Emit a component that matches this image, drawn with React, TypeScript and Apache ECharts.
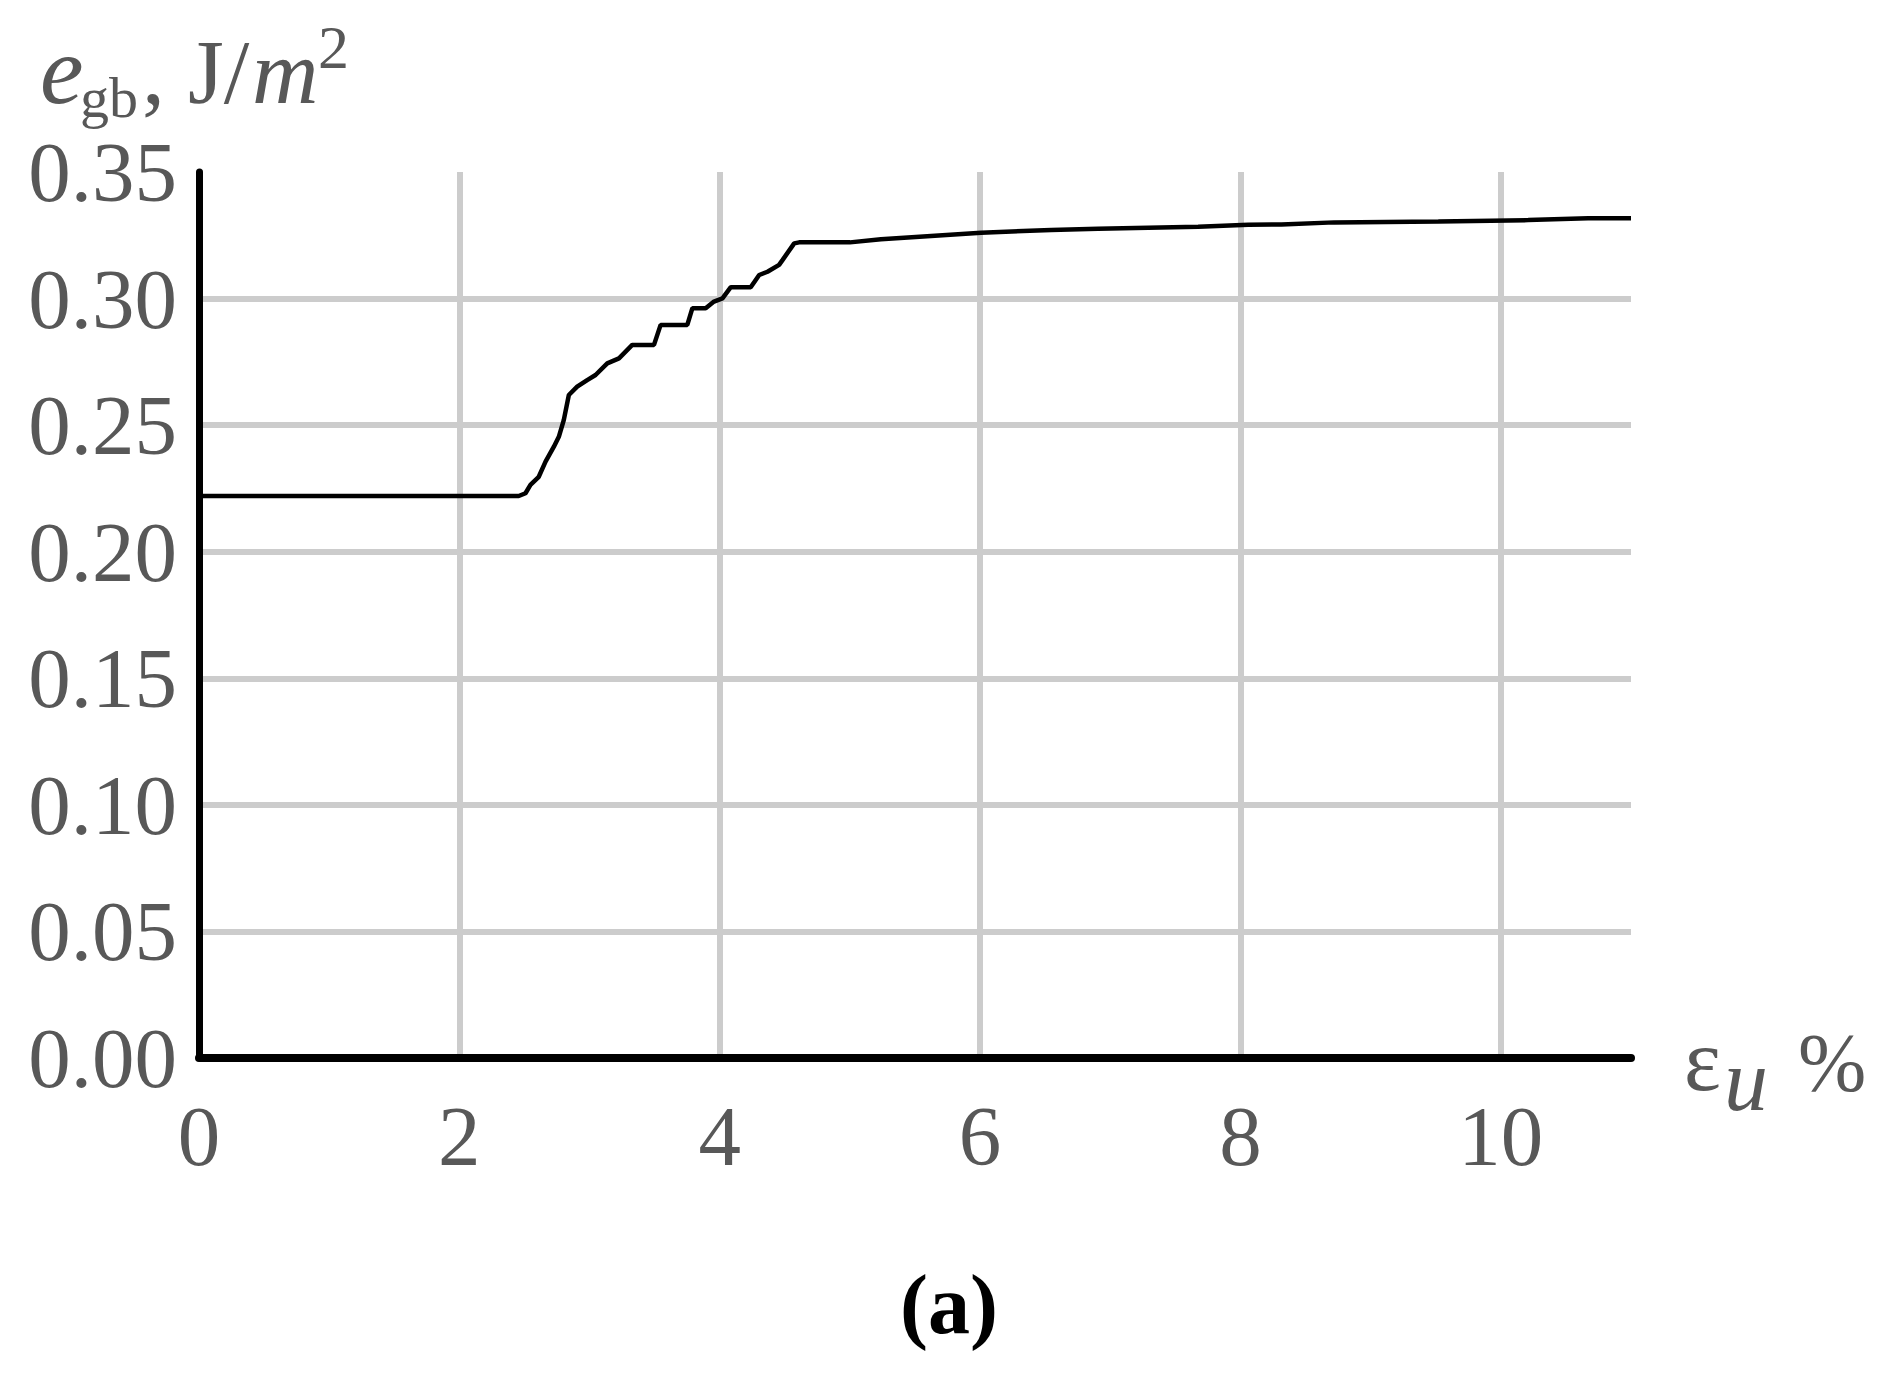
import React, { useEffect, useRef } from "react";
import * as echarts from "echarts";

const strainPct = [0, 2.456, 2.508, 2.546, 2.61, 2.662, 2.726, 2.764, 2.802, 2.841, 2.905, 2.982, 3.046, 3.136, 3.226, 3.328, 3.495, 3.546, 3.751, 3.79, 3.892, 3.956, 4.021, 4.085, 4.238, 4.303, 4.367, 4.456, 4.482, 4.572, 4.61, 5.0, 5.238, 5.623, 6.008, 6.546, 6.905, 7.29, 7.675, 8.06, 8.315, 8.72, 9.52, 10.21, 10.67, 11.0];
const energy = [0.222, 0.222, 0.2231, 0.2264, 0.2296, 0.2356, 0.2415, 0.2454, 0.252, 0.2619, 0.2652, 0.2678, 0.2698, 0.2744, 0.2764, 0.2817, 0.2817, 0.2896, 0.2896, 0.2962, 0.2962, 0.2988, 0.3001, 0.3045, 0.3045, 0.3093, 0.3106, 0.3133, 0.3152, 0.3218, 0.3222, 0.3222, 0.3234, 0.3247, 0.326, 0.3271, 0.3276, 0.328, 0.3284, 0.3292, 0.3293, 0.3301, 0.3304, 0.331, 0.3317, 0.3317];

const FONT = "Liberation Serif";
const GRAY = "#585858";

export default function App() {
  const ref = useRef<HTMLDivElement>(null);
  useEffect(() => {
    if (!ref.current) return;
    const chart = echarts.init(ref.current, undefined, { renderer: "svg" });
    const t = (text: string, x: number, y: number, fs: number, extra: any = {}) => ({
      type: "text",
      x,
      y,
      style: {
        text,
        fontFamily: FONT,
        fontSize: fs,
        fill: GRAY,
        verticalAlign: "middle",
        align: "left",
        ...extra,
      },
    });
    chart.setOption({
      animation: false,
      backgroundColor: "#ffffff",
      grid: { left: 199, top: 172, width: 1432, height: 886 },
      xAxis: {
        type: "value",
        min: 0,
        max: 11,
        interval: 2,
        axisLine: { show: true, onZero: false, lineStyle: { color: "#000", width: 8 } },
        axisTick: { show: false },
        axisLabel: {
          showMaxLabel: false,
          margin: 36,
          fontFamily: FONT,
          fontSize: 85,
          lineHeight: 84,
          color: GRAY,
        },
        splitLine: { show: true, showMinLine: false, showMaxLine: false, lineStyle: { color: "#cccccc", width: 6 } },
      },
      yAxis: {
        type: "value",
        min: 0,
        max: 0.35,
        interval: 0.05,
        axisLine: { show: true, lineStyle: { color: "#000", width: 7 } },
        axisTick: { show: false },
        axisLabel: {
          showMaxLabel: true,
          showMinLabel: true,
          margin: 22,
          fontFamily: FONT,
          fontSize: 85,
          color: GRAY,
          formatter: (v: number) => v.toFixed(2),
        },
        splitLine: { show: true, showMinLine: false, showMaxLine: false, lineStyle: { color: "#cccccc", width: 6 } },
      },
      series: [
        {
          type: "line",
          data: strainPct.map((x, i) => [x, energy[i]]),
          showSymbol: false,
          lineStyle: { color: "#000", width: 4.5 },
          z: 5,
        },
      ],
      graphic: [
        t("e", 40, 70, 98, { fontStyle: "italic" }),
        t("gb", 80, 97, 58),
        t(", J/", 142, 72, 92),
        t("m", 252, 72, 92, { fontStyle: "italic" }),
        t("2", 318, 47, 62),
        t("ε", 1684, 1060, 88),
        t("u", 1724, 1080, 88, { fontStyle: "italic" }),
        t("%", 1798, 1062, 82),
        t("(a)", 949, 1304, 84, { align: "center", fill: "#000", fontWeight: "bold" }),
      ],
    });
    return () => chart.dispose();
  }, []);
  return (
    <div
      ref={ref}
      style={{ position: "fixed", left: 0, top: 0, width: 1890, height: 1384, background: "#fff" }}
    />
  );
}
